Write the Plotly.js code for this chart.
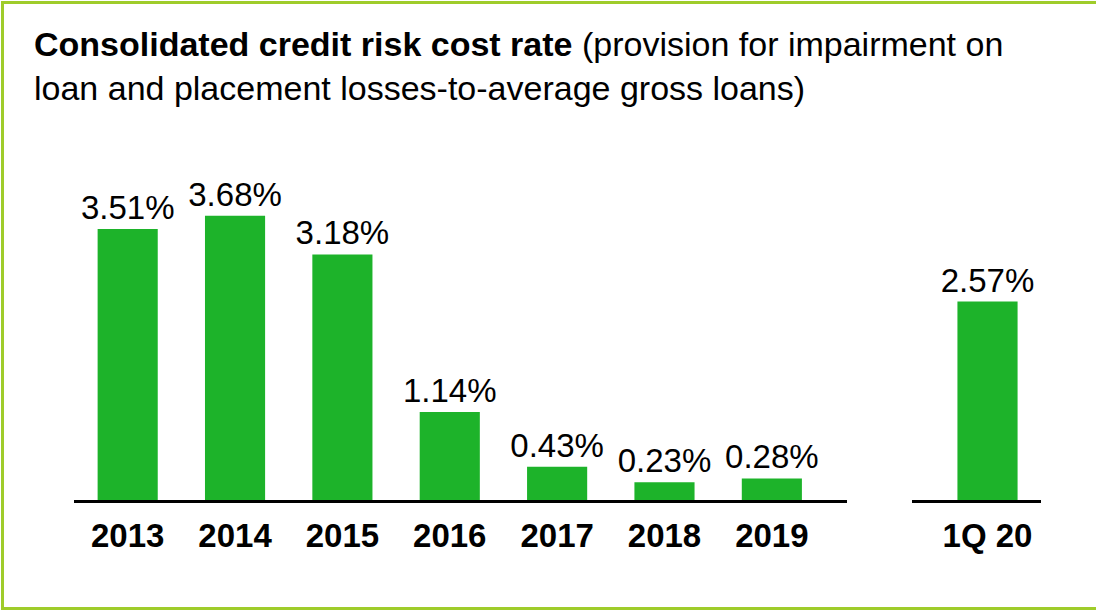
<!DOCTYPE html>
<html>
<head>
<meta charset="utf-8">
<script src="https://cdn.plot.ly/plotly-3.0.1.min.js"></script>
<style>html,body{margin:0;padding:0;background:#fff;}#chart{width:1096px;height:611px;}</style>
</head>
<body>
<div id="chart"></div>
<script>
var yearCategories = ['2013', '2014', '2015', '2016', '2017', '2018', '2019'];
var yearValues = [3.51, 3.68, 3.18, 1.14, 0.43, 0.23, 0.28];
var quarterCategories = ['1Q 20'];
var quarterValues = [2.57];

var barColor = '#1db32a';
var font = 'Liberation Sans, Arial, sans-serif';

var traces = [
  {
    type: 'bar', x: yearCategories, y: yearValues, xaxis: 'x', yaxis: 'y',
    width: 0.56, marker: {color: barColor, line: {width: 0}},
    texttemplate: '%{y:.2f}%', textposition: 'outside', cliponaxis: false,
    constraintext: 'none',
    textfont: {family: font, size: 33, color: '#000'}, hoverinfo: 'x+y'
  },
  {
    type: 'bar', x: quarterCategories, y: quarterValues, xaxis: 'x2', yaxis: 'y',
    width: 0.56, marker: {color: barColor, line: {width: 0}},
    texttemplate: '%{y:.2f}%', textposition: 'outside', cliponaxis: false,
    constraintext: 'none',
    textfont: {family: font, size: 33, color: '#000'}, hoverinfo: 'x+y'
  }
];

var axisCommon = {
  type: 'category', showline: true, linecolor: '#000', linewidth: 3,
  showgrid: false, zeroline: false, ticks: '', ticklabelstandoff: 4,
  tickfont: {family: font, size: 33, color: '#000', weight: 'bold'},
  fixedrange: true
};

var layout = {
  width: 1096, height: 611,
  margin: {l: 0, r: 0, t: 100, b: 111, pad: 0},
  paper_bgcolor: '#fff', plot_bgcolor: '#fff',
  showlegend: false,
  title: {
    text: '<b>Consolidated credit risk cost rate</b> (provision for impairment on<br>loan and placement losses-to-average gross loans)',
    font: {family: font, size: 34, color: '#000'},
    x: 34 / 1096, xanchor: 'left', xref: 'container',
    y: 1 - 56 / 611, yanchor: 'top', yref: 'container'
  },
  xaxis: Object.assign({}, axisCommon, {domain: [74 / 1096, 847 / 1096], range: [-0.5, 6.7]}),
  xaxis2: Object.assign({}, axisCommon, {domain: [912 / 1096, 1041 / 1096], range: [-0.703, 0.498], anchor: 'y'}),
  yaxis: {range: [0, 5.18], visible: false, fixedrange: true},
  shapes: [{
    type: 'rect', xref: 'paper', yref: 'paper',
    x0: 2.5 / 1096, x1: 1100 / 1096,
    y0: (500 - 608.5) / 400, y1: (500 - 2.5) / 400,
    line: {color: '#9fcc2a', width: 3}, fillcolor: 'rgba(0,0,0,0)', layer: 'below'
  }]
};

Plotly.newPlot('chart', traces, layout, {displayModeBar: false, staticPlot: true});
</script>
</body>
</html>
